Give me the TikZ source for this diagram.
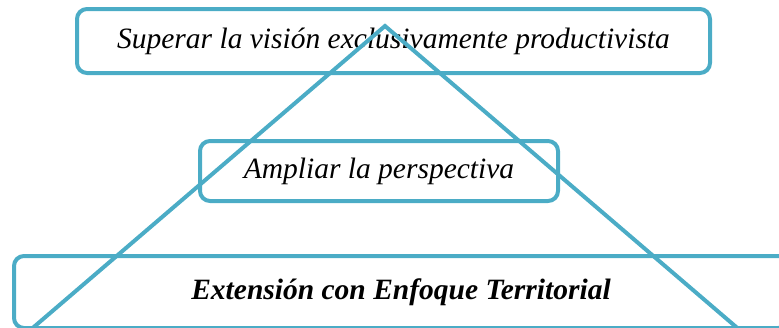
\documentclass[tikz,border=0pt]{standalone}
\usepackage{fontspec}
\setmainfont{Liberation Serif}
\definecolor{aqua}{HTML}{4BACC6}
\begin{document}
\begin{tikzpicture}[x=1pt, y=-1pt, line width=4pt, font=\fontsize{29.5}{34}\selectfont\itshape,
        box/.style={draw=aqua, rounded corners=10pt, inner sep=0pt}]
            \useasboundingbox (0,0) rectangle (779,327);
            \node[box, minimum width=633pt, minimum height=64pt] (vision) at (393.5,41) {Superar la visión exclusivamente productivista};
            \node[box, minimum width=358pt, minimum height=60pt] (perspectiva) at (379,171) {Ampliar la perspectiva};
            \node[box, minimum width=774pt, minimum height=72pt, font=\fontsize{29.5}{34}\selectfont\bfseries\itshape] (extension) at (401,292) {Extensión con Enfoque Territorial};
            \draw[aqua] (24.5,335)--(385,26)--(745.5,335);
    \end{tikzpicture}
\end{document}
